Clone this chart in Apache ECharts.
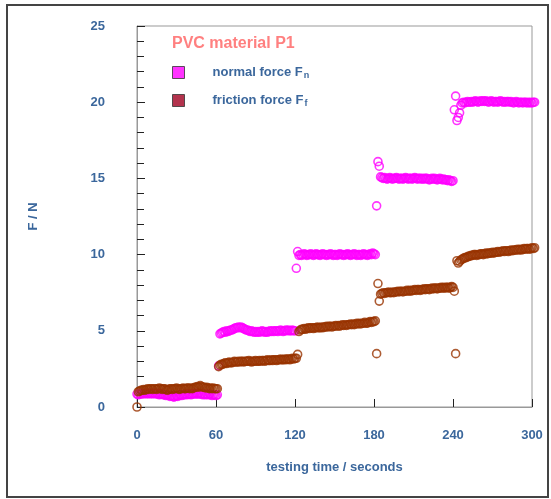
<!DOCTYPE html>
<html>
<head>
<meta charset="utf-8">
<script src="https://cdn.jsdelivr.net/npm/echarts@6/dist/echarts.min.js"></script>
<style>
  html, body { margin: 0; padding: 0; background: #fff; }
  #chart { width: 551px; height: 499px; }
</style>
</head>
<body>
<div id="chart"></div>
<script>
// Friction test on PVC material P1, one sample per second
const sampleStep = 1; // seconds between samples

const xTicks = [0, 60, 120, 180, 240, 300];
const yTicks = [0, 5, 10, 15, 20, 25];

// normal force Fn [N], t = 0 .. 302 s
const normalForce = [
  0.85,
  0.8,0.85,0.85,0.9,0.85,0.9,0.9,0.85,0.9,0.9,
  0.85,0.9,0.9,0.85,0.9,0.85,0.8,0.85,0.85,0.8,
  0.8,0.75,0.8,0.75,0.7,0.75,0.7,0.65,0.7,0.75,
  0.7,0.75,0.8,0.75,0.8,0.8,0.85,0.8,0.85,0.85,
  0.8,0.85,0.85,0.9,0.85,0.85,0.9,0.85,0.85,0.8,
  0.85,0.8,0.85,0.8,0.85,0.8,0.75,0.8,0.8,0.75,
  0.8,
  2.7,
  4.8,4.85,4.9,4.95,4.9,5.0,4.95,5.0,5.05,5.05,
  5.1,5.15,5.2,5.2,5.25,5.2,5.25,5.2,5.15,5.1,
  5.05,5.05,5.0,4.95,5.0,4.95,4.9,4.95,4.9,4.95,
  4.9,4.95,5.0,4.95,4.9,4.95,4.9,4.95,5.0,4.95,
  5.0,4.95,5.0,5.0,4.95,5.0,5.05,5.0,4.95,5.0,
  5.05,5.0,5.05,5.0,5.0,5.05,5.0,5.0,
  9.1, 10.2,
  9.95,10.0,9.95,10.0,10.05,10.0,9.95,10.0,10.0,10.05,
  10.0,9.95,10.0,10.05,10.0,10.0,9.95,10.0,10.05,10.0,
  10.0,9.95,10.0,10.0,10.05,10.0,9.95,10.0,10.0,9.95,
  10.0,10.05,10.0,10.0,9.95,10.0,10.0,10.05,10.0,9.95,
  10.0,10.0,10.05,10.0,9.95,10.0,10.0,9.95,10.0,10.05,
  10.0,10.0,9.95,10.0,10.05,10.0,10.1,10.05,10.0,
  13.2, 16.1, 15.8,
  15.1,15.05,15.0,15.05,15.0,14.95,15.0,15.05,15.0,14.95,
  15.0,15.0,15.05,15.0,14.95,15.0,15.0,14.95,15.0,15.05,
  15.0,14.95,15.0,15.0,14.95,15.0,15.05,15.0,14.95,15.0,
  15.0,14.95,15.0,14.95,15.0,15.0,14.95,14.9,14.95,15.0,
  14.95,15.0,14.95,14.9,14.95,15.0,14.95,14.9,14.95,14.9,
  14.9,14.85,14.9,14.85,14.8,14.85,
  19.5, 20.4,
  18.8,19.0,19.3,19.8,19.95,20.0,19.95,20.0,20.05,20.0,
  20.0,20.05,20.0,20.05,20.1,20.05,20.0,20.05,20.1,20.05,
  20.1,20.05,20.1,20.05,20.0,20.05,20.1,20.05,20.0,20.05,
  20.05,20.0,20.05,20.1,20.05,20.0,20.05,20.0,20.05,20.05,
  20.0,20.05,20.0,19.95,20.0,20.05,20.0,19.95,20.0,20.0,
  19.95,20.0,20.0,19.95,20.0,19.95,20.0,19.95,20.0,20.0
];

// friction force Ff [N], t = 0 .. 302 s
const frictionForce = [
  0.0,
  1.0,1.05,1.1,1.1,1.15,1.1,1.15,1.2,1.15,1.2,
  1.2,1.15,1.2,1.2,1.15,1.2,1.25,1.2,1.15,1.2,
  1.2,1.15,1.1,1.15,1.2,1.2,1.15,1.2,1.2,1.25,
  1.2,1.15,1.2,1.2,1.25,1.2,1.2,1.25,1.25,1.2,
  1.25,1.2,1.25,1.3,1.3,1.35,1.3,1.4,1.35,1.3,
  1.3,1.25,1.3,1.25,1.2,1.25,1.2,1.25,1.2,1.2,
  1.2,
  2.65,
  2.75,2.8,2.8,2.85,2.9,2.85,2.9,2.95,2.9,2.9,
  2.95,3.0,2.95,2.95,3.0,2.95,3.0,3.0,2.95,3.0,
  3.0,3.0,3.05,3.0,2.95,3.0,3.0,3.05,3.0,3.0,
  3.05,3.0,3.05,3.05,3.0,3.05,3.1,3.05,3.05,3.1,
  3.05,3.1,3.1,3.05,3.1,3.1,3.15,3.1,3.1,3.15,
  3.1,3.15,3.15,3.1,3.15,3.2,3.15,3.2,
  3.2, 3.45,
  4.95,5.05,5.1,5.1,5.15,5.1,5.15,5.2,5.15,5.2,
  5.2,5.15,5.2,5.2,5.25,5.2,5.2,5.25,5.2,5.25,
  5.25,5.3,5.25,5.3,5.3,5.25,5.3,5.3,5.35,5.3,
  5.35,5.3,5.35,5.4,5.35,5.4,5.35,5.4,5.4,5.45,
  5.4,5.45,5.4,5.45,5.5,5.45,5.5,5.45,5.5,5.5,
  5.55,5.5,5.5,5.55,5.6,5.55,5.6,5.6,5.65,
  3.5, 8.1, 6.95,
  7.4,7.45,7.5,7.45,7.5,7.5,7.55,7.5,7.5,7.55,
  7.5,7.55,7.55,7.6,7.55,7.6,7.6,7.55,7.6,7.6,
  7.65,7.6,7.65,7.6,7.65,7.65,7.7,7.65,7.7,7.7,
  7.65,7.7,7.7,7.75,7.7,7.75,7.75,7.7,7.75,7.8,
  7.75,7.8,7.8,7.75,7.8,7.8,7.85,7.8,7.85,7.8,
  7.85,7.85,7.8,7.85,7.9,7.85,
  7.6, 3.5,
  9.6,9.45,9.55,9.65,9.7,9.75,9.8,9.8,9.85,9.9,
  9.9,9.95,9.95,10.0,10.0,9.95,10.0,10.0,10.05,10.05,
  10.0,10.05,10.1,10.05,10.1,10.1,10.1,10.15,10.1,10.15,
  10.15,10.2,10.15,10.2,10.2,10.25,10.2,10.25,10.25,10.2,
  10.25,10.3,10.25,10.3,10.3,10.3,10.35,10.3,10.35,10.3,
  10.35,10.4,10.35,10.4,10.4,10.35,10.4,10.45,10.4,10.45
];

const labelBlue = '#3b679c';
const font = '"Liberation Sans", Arial, sans-serif';

function toPairs(values) {
  return values.map((v, i) => [i * sampleStep, v]);
}

// hollow rings; dense runs of them merge into solid bands
function ringSeries(name, color, values, z) {
  return {
    name: name,
    type: 'scatter',
    symbol: 'circle',
    symbolSize: 8,
    clip: false,
    z: z,
    itemStyle: { color: 'rgba(0,0,0,0)', borderColor: color, borderWidth: 1.6 },
    emphasis: { disabled: true },
    data: toPairs(values)
  };
}

const chart = echarts.init(document.getElementById('chart'), null, { renderer: 'canvas' });

chart.setOption({
  animation: false,
  backgroundColor: '#fff',
  textStyle: { fontFamily: font },
  title: {
    text: 'PVC material P1',
    left: 172,
    top: 36,
    padding: 0,
    textStyle: { color: '#ff8080', fontSize: 16, fontWeight: 'bold', fontFamily: font }
  },
  legend: {
    orient: 'vertical',
    left: 172,
    top: 66,
    padding: 0,
    itemWidth: 12,
    itemHeight: 12,
    itemGap: 14,
    selectedMode: false,
    data: [
      { name: 'normal', icon: 'rect', itemStyle: { color: '#ff00ff', borderColor: '#333', borderWidth: 1 } },
      { name: 'friction', icon: 'rect', itemStyle: { color: '#a00020', borderColor: '#333', borderWidth: 1 } }
    ],
    formatter: function (name) {
      return name === 'normal'
        ? '{a|normal force F}{s|n}'
        : '{a|friction force F}{s|f}';
    },
    textStyle: {
      padding: [0, 0, 0, 23],
      rich: {
        a: { color: labelBlue, fontSize: 13, fontWeight: 'bold', fontFamily: font },
        s: { color: labelBlue, fontSize: 9, fontWeight: 'bold', fontFamily: font, verticalAlign: 'bottom', padding: [6, 0, 0, 1] }
      }
    }
  },
  grid: {
    left: 137,
    top: 26,
    width: 395,
    height: 381,
    show: true,
    borderColor: '#999',
    borderWidth: 1,
    backgroundColor: 'transparent'
  },
  xAxis: {
    type: 'value',
    min: xTicks[0],
    max: xTicks[xTicks.length - 1],
    interval: 60,
    name: 'testing time / seconds',
    nameLocation: 'middle',
    nameGap: 54,
    nameTextStyle: { color: labelBlue, fontSize: 13, fontWeight: 'bold', fontFamily: font },
    axisLine: { show: true, onZero: false, lineStyle: { color: '#999', width: 1 } },
    axisTick: { show: true, inside: true, length: 8, lineStyle: { color: '#222', width: 1 } },
    axisLabel: { color: labelBlue, fontSize: 13, fontWeight: 'bold', fontFamily: font, margin: 22 },
    splitLine: { show: false }
  },
  yAxis: {
    type: 'value',
    min: yTicks[0],
    max: yTicks[yTicks.length - 1],
    interval: 5,
    name: 'F / N',
    nameLocation: 'middle',
    nameGap: 97,
    nameTextStyle: { color: labelBlue, fontSize: 13, fontWeight: 'bold', fontFamily: font },
    axisLine: { show: true, onZero: false, lineStyle: { color: '#999', width: 1 } },
    axisTick: { show: true, inside: true, length: 8, lineStyle: { color: '#222', width: 1 } },
    minorTick: { show: true, splitNumber: 5, length: 7, lineStyle: { color: '#222', width: 1 } },
    axisLabel: { color: labelBlue, fontSize: 13, fontWeight: 'bold', fontFamily: font, margin: 32 },
    splitLine: { show: false },
    minorSplitLine: { show: false }
  },
  graphic: [
    {
      type: 'rect',
      silent: true,
      shape: { x: 7, y: 5, width: 541, height: 492 },
      style: { fill: 'none', stroke: '#444', lineWidth: 2 }
    }
  ],
  series: [
    ringSeries('normal', '#ff00ff', normalForce, 2),
    ringSeries('friction', '#993300', frictionForce, 3)
  ]
});
</script>
</body>
</html>
